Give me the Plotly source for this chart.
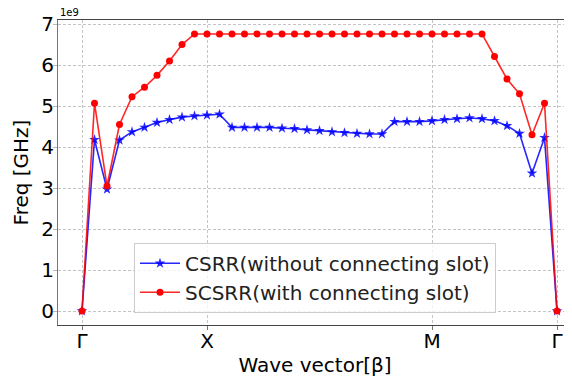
import plotly.graph_objects as go

# k-path index (Γ -> X -> M -> Γ)
k_index = list(range(39))
tick_pos = [0, 10, 28, 38]
tick_labels = ["Γ", "X", "M", "Γ"]

# Frequencies in units of 1e9 Hz
csrr = [0, 4.18, 2.97, 4.17, 4.37, 4.48, 4.60, 4.67, 4.73, 4.76,
        4.78, 4.80, 4.48, 4.48, 4.48, 4.48, 4.46, 4.45, 4.42, 4.40,
        4.37, 4.35, 4.33, 4.32, 4.32, 4.62, 4.62, 4.62, 4.64, 4.67,
        4.69, 4.71, 4.69, 4.64, 4.52, 4.33, 3.36, 4.23, 0]
scsrr = [0, 5.07, 3.05, 4.55, 5.23, 5.46, 5.75, 6.10, 6.50, 6.76,
         6.76, 6.76, 6.76, 6.76, 6.76, 6.76, 6.76, 6.76, 6.76, 6.76,
         6.76, 6.76, 6.76, 6.76, 6.76, 6.76, 6.76, 6.76, 6.76, 6.76,
         6.76, 6.76, 6.76, 6.21, 5.66, 5.30, 4.30, 5.07, 0]
y_ticks = [0, 1, 2, 3, 4, 5, 6, 7]

FONT = "DejaVu Sans"
GRID = dict(showgrid=True, gridcolor="#c4c4c4", griddash="3px,2px", gridwidth=1)

fig = go.Figure()
fig.add_trace(go.Scatter(
    x=k_index, y=csrr, mode="lines+markers",
    name="CSRR(without connecting slot)",
    line=dict(color="rgba(0,0,255,0.85)", width=1.6),
    marker=dict(symbol="star", size=8, color="rgba(0,0,255,0.85)"),
))
fig.add_trace(go.Scatter(
    x=k_index, y=scsrr, mode="lines+markers",
    name="SCSRR(with connecting slot)",
    line=dict(color="rgba(255,0,0,0.85)", width=1.6),
    marker=dict(symbol="circle", size=7, color="rgba(255,0,0,1)"),
))

fig.update_layout(
    width=564, height=370,
    margin=dict(l=50, r=0, t=12, b=53, autoexpand=False),
    paper_bgcolor="white", plot_bgcolor="white",
    font=dict(family=FONT, size=20, color="black"),
    showlegend=True,
    legend=dict(
        x=0.5, xanchor="center", y=0.04, yanchor="bottom",
        bgcolor="rgba(255,255,255,0.8)", bordercolor="#cccccc", borderwidth=1,
        font=dict(family=FONT, size=20, color="#222"),
        tracegroupgap=0, itemwidth=40,
    ),
    xaxis=dict(
        range=[-1.92, 39.2], tickmode="array", tickvals=tick_pos, ticktext=tick_labels,
        zeroline=False, showline=True, linecolor="#444", linewidth=1, mirror=True,
        ticks="outside", ticklen=4, tickcolor="#777", automargin=False,
        tickfont=dict(size=20), ticklabelstandoff=-6,
        title=dict(text="Wave vector[β]", standoff=5, font=dict(size=20)),
        **GRID,
    ),
    yaxis=dict(
        range=[-0.34, 7.1], tickmode="array", tickvals=y_ticks,
        zeroline=False, showline=True, linecolor="#777", linewidth=1,
        ticks="outside", ticklen=4, tickcolor="#bbb", automargin=False,
        tickfont=dict(size=20), ticklabelstandoff=-5,
        title=dict(text="Freq [GHz]", standoff=7, font=dict(size=20)),
        **GRID,
    ),
    annotations=[dict(
        text="1e9", xref="paper", yref="paper", x=0, y=1, xanchor="left", yanchor="bottom",
        showarrow=False, font=dict(family=FONT, size=10, color="black"), yshift=0,
    )],
)

fig.write_html("out.html")
